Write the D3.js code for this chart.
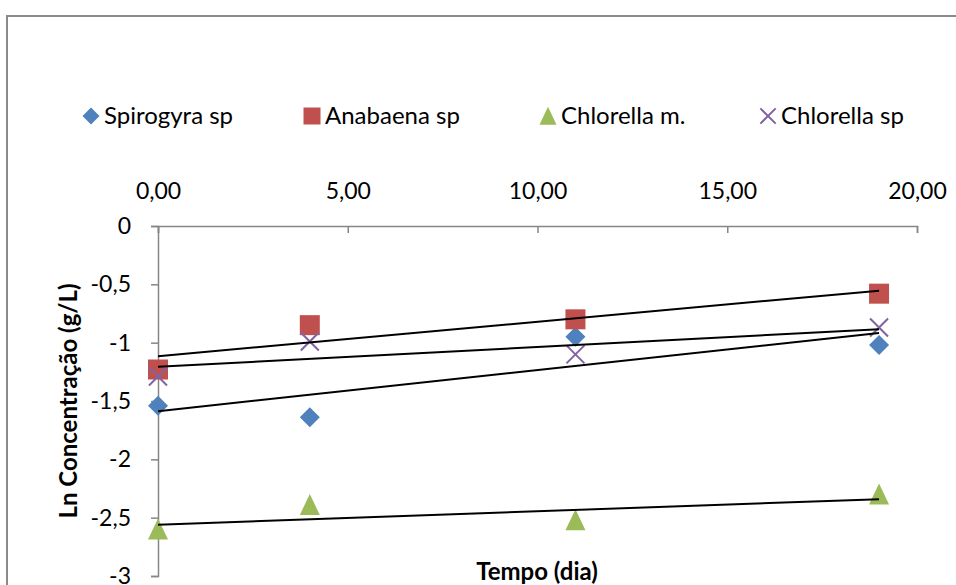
<!DOCTYPE html>
<html><head><meta charset="utf-8">
<script src="https://cdn.jsdelivr.net/npm/d3@7"></script>
<style>
html,body{margin:0;padding:0;background:#fff;}
svg{display:block;font-family:Lato,"Open Sans",sans-serif;}
</style></head>
<body>
<svg id="c" width="956" height="585"></svg>
<script>
const days = [0, 4, 11, 19];
const spirogyra = [-1.54, -1.64, -0.95, -1.02];
const anabaena = [-1.23, -0.85, -0.80, -0.58];
const chlorellaM = [-2.61, -2.40, -2.53, -2.31];
const chlorellaSp = [-1.29, -0.99, -1.10, -0.87];
const seriesNames = ["Spirogyra sp", "Anabaena sp", "Chlorella m.", "Chlorella sp"];
const seriesColors = ["#4F81BD", "#C0504D", "#9BBB59", "#8064A2"];
const xTicks = [0, 5, 10, 15, 20];
const yTicks = [0, -0.5, -1, -1.5, -2, -2.5, -3];

const series = [
  {name: seriesNames[0], values: spirogyra, color: seriesColors[0], shape: "diamond"},
  {name: seriesNames[1], values: anabaena, color: seriesColors[1], shape: "square"},
  {name: seriesNames[2], values: chlorellaM, color: seriesColors[2], shape: "triangle"},
  {name: seriesNames[3], values: chlorellaSp, color: seriesColors[3], shape: "x"}
];

const svg = d3.select("#c");
const fmtComma = d => d3.format(".2f")(d).replace(".", ",");
const fmtY = d => (d === 0 ? "0" : String(d).replace(".", ","));

// outer chart border
svg.append("path").attr("d", "M7,585 L7,16 L956,16")
  .attr("fill", "none").attr("stroke", "#8a8a8a").attr("stroke-width", 2);

const x = d3.scaleLinear().domain([0, 20]).range([158, 917]);
const y = d3.scaleLinear().domain([0, -3]).range([226, 576]);

// x axis (top)
const xAxis = svg.append("g").attr("transform", "translate(0,226)")
  .call(d3.axisBottom(x).tickValues(xTicks).tickSize(7).tickFormat(fmtComma));
xAxis.select(".domain").attr("stroke", "#868686").attr("stroke-width", 1.5);
xAxis.selectAll(".tick line").attr("stroke", "#868686").attr("stroke-width", 1.5);
xAxis.selectAll(".tick text").attr("y", -27).attr("dy", 0)
  .attr("font-size", 23).attr("fill", "#000").attr("font-family", "Lato");

// y axis
const yAxis = svg.append("g").attr("transform", "translate(158,0)")
  .call(d3.axisLeft(y).tickValues(yTicks).tickSize(7).tickPadding(20).tickFormat(fmtY));
yAxis.select(".domain").attr("stroke", "#868686").attr("stroke-width", 1.5);
yAxis.selectAll(".tick line").attr("stroke", "#868686").attr("stroke-width", 1.5);
yAxis.selectAll(".tick text").attr("font-size", 23).attr("fill", "#000").attr("font-family", "Lato");

// trendlines (least squares)
function fit(xs, ys) {
  const n = xs.length, mx = d3.mean(xs), my = d3.mean(ys);
  let sxy = 0, sxx = 0;
  for (let i = 0; i < n; i++) { sxy += (xs[i]-mx)*(ys[i]-my); sxx += (xs[i]-mx)**2; }
  const b = sxy / sxx; return {b, a: my - b*mx};
}

// markers
function drawMarker(g, shape, color, cx, cy, r) {
  if (shape === "diamond") {
    g.append("path").attr("d", `M${cx},${cy-r} L${cx+r},${cy} L${cx},${cy+r} L${cx-r},${cy} Z`).attr("fill", color);
  } else if (shape === "square") {
    g.append("rect").attr("x", cx-r).attr("y", cy-r).attr("width", 2*r).attr("height", 2*r).attr("fill", color);
  } else if (shape === "triangle") {
    g.append("path").attr("d", `M${cx},${cy-1.2*r} L${cx+r},${cy+0.9*r} L${cx-r},${cy+0.9*r} Z`).attr("fill", color);
  } else {
    const q = r*0.9;
    g.append("path").attr("d", `M${cx-q},${cy-q} L${cx+q},${cy+q} M${cx+q},${cy-q} L${cx-q},${cy+q}`)
      .attr("stroke", color).attr("stroke-width", 2).attr("fill", "none");
  }
}

const pts = svg.append("g");
series.forEach(s => {
  s.values.forEach((v, i) => drawMarker(pts, s.shape, s.color, x(days[i]), y(v), 10));
});

const lines = svg.append("g");
series.forEach(s => {
  const f = fit(days, s.values);
  const x0 = d3.min(days), x1 = d3.max(days);
  lines.append("line")
    .attr("x1", x(x0)).attr("y1", y(f.a + f.b*x0))
    .attr("x2", x(x1)).attr("y2", y(f.a + f.b*x1))
    .attr("stroke", "#000").attr("stroke-width", 2);
});

// legend
const legendX = [91, 312, 548, 768];
const leg = svg.append("g");
series.forEach((s, i) => {
  const cx = legendX[i], cy = 116;
  drawMarker(leg, s.shape, s.color, cx, s.shape === "triangle" ? cy + 1 : cy, 8.5);
  leg.append("text").attr("x", cx + 13).attr("y", cy + 8)
    .attr("font-size", 24).attr("fill", "#000").text(s.name);
});

// axis titles
svg.append("text").attr("x", 537).attr("y", 580).attr("text-anchor", "middle")
  .attr("font-size", 24).attr("font-weight", "bold").text("Tempo (dia)");
svg.append("text").attr("transform", "translate(77,401) rotate(-90)").attr("text-anchor", "middle")
  .attr("font-size", 24).attr("font-weight", "bold").text("Ln Concentração (g/L)");
</script>
</body></html>
